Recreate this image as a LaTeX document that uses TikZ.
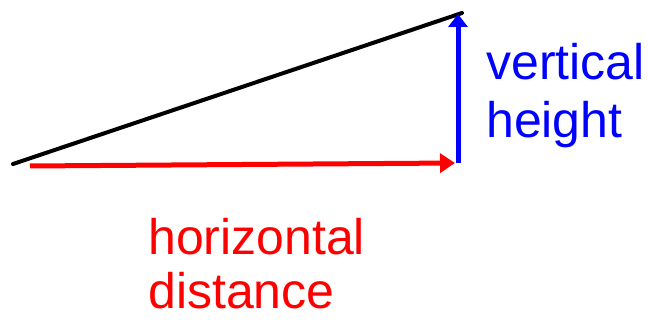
\documentclass[tikz,border=0pt]{standalone}
\usepackage{fontspec}
\setmainfont{Liberation Sans}
\usetikzlibrary{arrows.meta, positioning}

\begin{document}
\begin{tikzpicture}[
  x=1pt, y=-1pt,
  slope/.style={line width=4pt, black, line cap=round},
  harr/.style={-{Triangle[length=15pt, width=19pt]}, line width=5pt, red},
  varr/.style={-{Triangle[length=13pt, width=19pt]}, line width=5pt, blue},
  lbl/.style={
    inner sep=0pt, align=left, anchor=north west,
    font=\fontsize{50}{58}\selectfont
  }
]
\useasboundingbox (0,0) rectangle (648,320);

\coordinate (foot) at (13,164);
\coordinate (peak) at (462,13);
\coordinate (start) at (30,166);
\coordinate (corner) at (455,163);
\coordinate (base) at (458,163);
\coordinate (tip) at (458,14);

\node[lbl, text=blue] (vert) at (486,43) {vertical\\height};
\node[lbl, text=red, font=\fontsize{50}{54}\selectfont] (horiz) at (148,218) {horizontal\\distance};

\draw[slope] (foot) -- (peak);
\draw[harr] (start) -- (corner);
\draw[varr] (base) -- (tip);

\end{tikzpicture}
\end{document}
